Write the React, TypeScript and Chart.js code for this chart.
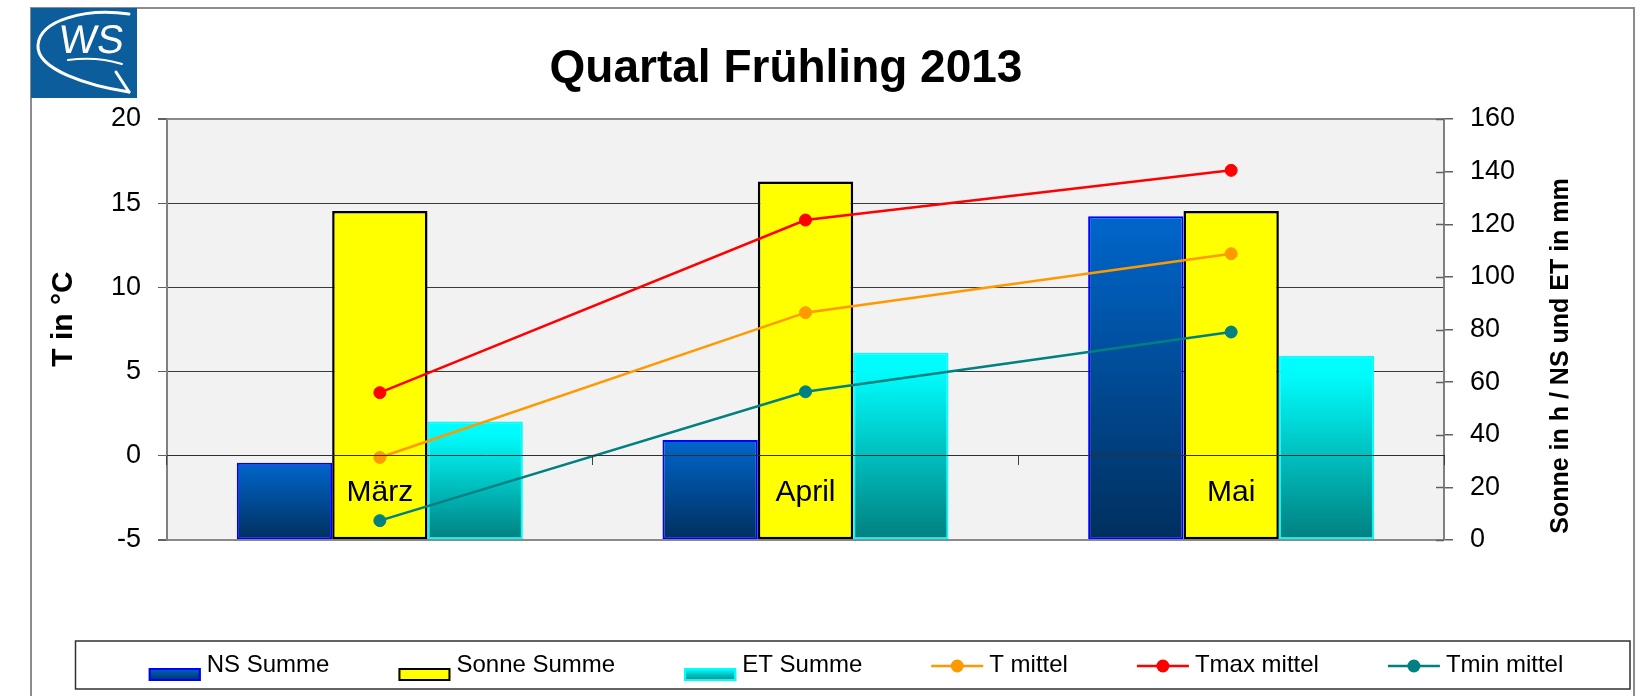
import { useEffect, useRef } from 'react';
import { Chart, registerables } from 'chart.js';

Chart.register(...registerables);

const FONT = "'Liberation Sans', Arial, Helvetica, sans-serif";

const months = ['März', 'April', 'Mai'];
const nsSumme = [29.4, 38, 123];
const sonneSumme = [125, 136.2, 125];
const etSumme = [45, 71.2, 70];
const tMittel = [-0.1, 8.5, 12.0];
const tmaxMittel = [3.75, 14.0, 16.95];
const tminMittel = [-3.85, 3.8, 7.35];

const tempMin = -5;
const tempMax = 20;
const tempStep = 5;
const sunMin = 0;
const sunMax = 160;
const sunStep = 20;

const chartTitle = 'Quartal Frühling 2013';
const leftTitle = 'T in °C';
const rightTitle = 'Sonne in h / NS und ET in mm';

const nsStops: [number, string][] = [[0, '#0066cc'], [1, '#002f5e']];
const etStops: [number, string][] = [[0, '#00ffff'], [0.12, '#00fafa'], [1, '#007f7f']];

type LegendItem = { label: string; kind: 'bar' | 'line'; color: string; border: string; stops?: [number, string][] };
const legendItems: LegendItem[] = [
  { label: 'NS Summe', kind: 'bar', color: '#0066cc', border: '#0000ff', stops: nsStops },
  { label: 'Sonne Summe', kind: 'bar', color: '#ffff00', border: '#000000' },
  { label: 'ET Summe', kind: 'bar', color: '#00ffff', border: '#00ffff', stops: etStops },
  { label: 'T mittel', kind: 'line', color: '#ff9900', border: '#ff9900' },
  { label: 'Tmax mittel', kind: 'line', color: '#ff0000', border: '#ff0000' },
  { label: 'Tmin mittel', kind: 'line', color: '#008080', border: '#008080' },
];

function barGradient(stops: [number, string][], axisId: string) {
  return (c: any) => {
    const chart = c.chart;
    const area = chart.chartArea;
    if (!area || c.type !== 'data') return stops[0][1];
    const s = chart.scales[axisId];
    if (!s) return stops[0][1];
    const y0 = s.getPixelForValue(c.raw);
    const y1 = s.getPixelForValue(0);
    if (!isFinite(y0) || !isFinite(y1) || Math.abs(y1 - y0) < 1) return stops[0][1];
    const g = chart.ctx.createLinearGradient(0, y0, 0, y1);
    stops.forEach(([o, col]) => g.addColorStop(o, col));
    return g;
  };
}

function drawLogo(ctx: CanvasRenderingContext2D) {
  ctx.save();
  ctx.fillStyle = '#0b5e9b';
  ctx.fillRect(31, 8, 106, 90);
  ctx.strokeStyle = '#ffffff';
  ctx.lineCap = 'round';
  ctx.lineJoin = 'round';
  ctx.lineWidth = 3;
  ctx.beginPath();
  ctx.moveTo(129, 14);
  ctx.bezierCurveTo(85, 8, 40, 20, 38, 45);
  ctx.bezierCurveTo(36, 70, 90, 86, 129, 92);
  ctx.stroke();
  ctx.beginPath();
  ctx.moveTo(116, 72);
  ctx.lineTo(129, 92);
  ctx.stroke();
  ctx.lineWidth = 2;
  ctx.beginPath();
  ctx.moveTo(68, 60);
  ctx.quadraticCurveTo(96, 56, 122, 64);
  ctx.stroke();
  ctx.fillStyle = '#ffffff';
  ctx.font = `40px ${FONT}`;
  ctx.textBaseline = 'alphabetic';
  ctx.textAlign = 'left';
  ctx.save();
  ctx.translate(58, 53);
  ctx.transform(1, 0, -0.12, 1, 0, 0);
  ctx.fillText('WS', 0, 0);
  ctx.restore();
  ctx.restore();
}

const decorPlugin = {
  id: 'decor',
  beforeDraw(chart: any) {
    const { ctx, chartArea: a } = chart;
    ctx.save();
    ctx.fillStyle = '#ffffff';
    ctx.fillRect(0, 0, chart.width, chart.height);
    ctx.strokeStyle = '#8c8c8c';
    ctx.lineWidth = 2;
    ctx.strokeRect(31, 8, 1603, 740);
    ctx.fillStyle = '#f2f2f2';
    ctx.fillRect(a.left, a.top, a.right - a.left, a.bottom - a.top);
    ctx.restore();
  },
  afterDraw(chart: any) {
    const { ctx, chartArea: a } = chart;
    drawLogo(ctx);
    ctx.save();
    // inner halves of right axis cross ticks
    const y2 = chart.scales.y2;
    ctx.strokeStyle = '#606060';
    ctx.lineWidth = 1.5;
    y2.ticks.forEach((t: any) => {
      const y = Math.round(y2.getPixelForValue(t.value)) + 0.5;
      ctx.beginPath();
      ctx.moveTo(a.right - 8, y);
      ctx.lineTo(a.right, y);
      ctx.stroke();
    });
    // title
    ctx.fillStyle = '#000000';
    ctx.font = `bold 46px ${FONT}`;
    ctx.textAlign = 'center';
    ctx.textBaseline = 'alphabetic';
    ctx.fillText(chartTitle, 786, 82);
    // axis titles
    ctx.save();
    ctx.translate(64, 319);
    ctx.rotate(-Math.PI / 2);
    ctx.font = `bold 30px ${FONT}`;
    ctx.textBaseline = 'middle';
    ctx.fillText(leftTitle, 0, 0);
    ctx.restore();
    ctx.save();
    ctx.translate(1561, 356);
    ctx.rotate(-Math.PI / 2);
    ctx.font = `bold 25px ${FONT}`;
    ctx.textBaseline = 'middle';
    ctx.fillText(rightTitle, 0, 0);
    ctx.restore();
    // legend box
    ctx.strokeStyle = '#303030';
    ctx.lineWidth = 1.5;
    ctx.strokeRect(75.5, 641, 1554.5, 48);
    ctx.font = `24px ${FONT}`;
    const symW = 52;
    const gapSym = 6;
    const gapItem = 69;
    const widths = legendItems.map((it) => symW + gapSym + ctx.measureText(it.label).width);
    const total = widths.reduce((s, w) => s + w, 0) + gapItem * (legendItems.length - 1);
    let x = 856 - total / 2;
    const cy = 665;
    legendItems.forEach((it, i) => {
      if (it.kind === 'bar') {
        const rx = x, ry = 668, rw = symW, rh = 13;
        if (it.stops) {
          const g = ctx.createLinearGradient(0, ry, 0, ry + rh);
          it.stops.forEach(([o, col]) => g.addColorStop(o, col));
          ctx.fillStyle = g;
        } else {
          ctx.fillStyle = it.color;
        }
        ctx.fillRect(rx, ry, rw, rh);
        ctx.strokeStyle = it.border;
        ctx.lineWidth = 2;
        ctx.strokeRect(rx + 1, ry + 1, rw - 2, rh - 2);
      } else {
        ctx.strokeStyle = it.color;
        ctx.lineWidth = 2.5;
        ctx.beginPath();
        ctx.moveTo(x, cy + 1);
        ctx.lineTo(x + symW, cy + 1);
        ctx.stroke();
        ctx.fillStyle = it.color;
        ctx.beginPath();
        ctx.arc(x + symW / 2, cy + 1, 6.5, 0, Math.PI * 2);
        ctx.fill();
      }
      ctx.fillStyle = '#000000';
      ctx.textAlign = 'left';
      ctx.textBaseline = 'middle';
      ctx.fillText(it.label, x + symW + gapSym, cy);
      x += widths[i] + gapItem;
    });
    ctx.restore();
  },
};

export default function App() {
  const ref = useRef<HTMLCanvasElement | null>(null);
  useEffect(() => {
    if (!ref.current) return;
    const tickFont = { family: FONT, size: 27 };
    const lineDs = (label: string, data: number[], color: string) => ({
      type: 'line' as const,
      label,
      data,
      yAxisID: 'y',
      borderColor: color,
      backgroundColor: color,
      pointBackgroundColor: color,
      pointBorderColor: color,
      borderWidth: 2.5,
      pointRadius: 6,
      pointBorderWidth: 1,
      tension: 0,
      order: 0,
    });
    const chart = new Chart(ref.current, {
      type: 'bar',
      data: {
        labels: months,
        datasets: [
          {
            type: 'bar',
            label: 'NS Summe',
            data: nsSumme,
            yAxisID: 'y2',
            backgroundColor: barGradient(nsStops, 'y2'),
            borderColor: '#0000ff',
            borderWidth: 2,
            borderSkipped: false,
            order: 1,
          },
          {
            type: 'bar',
            label: 'Sonne Summe',
            data: sonneSumme,
            yAxisID: 'y2',
            backgroundColor: '#ffff00',
            borderColor: '#000000',
            borderWidth: 2.5,
            borderSkipped: false,
            order: 1,
          },
          {
            type: 'bar',
            label: 'ET Summe',
            data: etSumme,
            yAxisID: 'y2',
            backgroundColor: barGradient(etStops, 'y2'),
            borderColor: '#00ffff',
            borderWidth: 2,
            borderSkipped: false,
            order: 1,
          },
          lineDs('T mittel', tMittel, '#ff9900'),
          lineDs('Tmax mittel', tmaxMittel, '#ff0000'),
          lineDs('Tmin mittel', tminMittel, '#008080'),
        ] as any,
      },
      options: {
        responsive: false,
        animation: false,
        devicePixelRatio: 1,
        datasets: { bar: { categoryPercentage: 0.672, barPercentage: 1 } },
        layout: { padding: { top: 119, bottom: 156, left: 0, right: 0 } },
        plugins: {
          legend: { display: false },
          title: { display: false },
          tooltip: { enabled: false },
        },
        scales: {
          x: {
            type: 'category',
            position: { y: 0 } as any,
            offset: true,
            grid: {
              display: true,
              drawOnChartArea: false,
              drawTicks: true,
              tickLength: 9,
              color: '#404040',
              offset: true,
              z: 1,
            },
            border: { display: true, color: '#303030', width: 1, z: 1 },
            ticks: {
              font: { family: FONT, size: 30 },
              color: '#000000',
              padding: 10,
              maxRotation: 0,
              autoSkip: false,
              z: 1,
            },
          },
          y: {
            position: 'left',
            min: tempMin,
            max: tempMax,
            ticks: { stepSize: tempStep, font: tickFont, color: '#000000', padding: 17 },
            grid: {
              color: (c: any) => (c.tick && (c.tick.value === tempMax || c.tick.value === tempMin) ? '#8a8a8a' : '#3a3a3a'),
              lineWidth: (c: any) => (c.tick && (c.tick.value === tempMax || c.tick.value === tempMin) ? 2 : 1),
              tickColor: '#606060',
              tickLength: 9,
              drawTicks: true,
            },
            border: { display: true, color: '#808080', width: 2 },
            afterFit: (s: any) => {
              s.width = 167;
            },
          },
          y2: {
            position: 'right',
            min: sunMin,
            max: sunMax,
            ticks: { stepSize: sunStep, font: tickFont, color: '#000000', padding: 17 },
            grid: { drawOnChartArea: false, tickLength: 9, tickColor: '#606060', lineWidth: 1.5 },
            border: { display: true, color: '#808080', width: 2 },
            afterFit: (s: any) => {
              s.width = 198;
            },
          },
        },
      } as any,
      plugins: [decorPlugin],
    });
    return () => chart.destroy();
  }, []);
  return (
    <div style={{ position: 'fixed', left: 0, top: 0, width: 1642, height: 696, background: '#fff' }}>
      <canvas ref={ref} width={1642} height={696} style={{ display: 'block', width: 1642, height: 696 }} />
    </div>
  );
}
